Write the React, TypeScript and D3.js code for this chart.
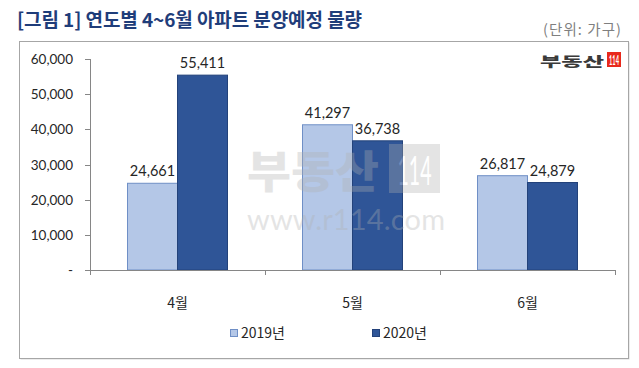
import React from "react";
import * as d3 from "d3";

const months = ["4월", "5월", "6월"];
const series2019 = [24661, 41297, 26817];
const series2020 = [55411, 36738, 24879];
const seriesNames = ["2019년", "2020년"];
const yTicks = [0, 10000, 20000, 30000, 40000, 50000, 60000];

const W = 639;
const H = 368;
const margin = { left: 90, right: 24, top: 59, bottom: 98 };
const colors = ["#b4c7e7", "#2f5597"];
const strokes = ["#6f8fc6", "#23427a"];
const numFont = "Lato, 'Noto Sans CJK KR', sans-serif";
const krFont = "'Noto Sans CJK KR', sans-serif";

export default function App() {
  const plotRight = W - margin.right;
  const plotBottom = H - margin.bottom;

  const x = d3.scaleBand().domain(months).range([margin.left, plotRight]);
  const inner = d3
    .scaleBand()
    .domain(seriesNames)
    .range([0, x.bandwidth()])
    .paddingOuter(0.75)
    .paddingInner(0);
  const y = d3.scaleLinear().domain([0, 60000]).range([plotBottom, margin.top]);
  const fmt = d3.format(",");

  const allSeries = [series2019, series2020];
  const xTickPos = [...months.map((m) => x(m)), plotRight];

  return (
    <svg
      width={W}
      height={H}
      style={{ position: "absolute", left: 0, top: 0, background: "#fff" }}
    >
      {/* title */}
      <text
        x={17}
        y={27}
        fontFamily={krFont}
        fontWeight="bold"
        fontSize={19}
        fill="#1f3d7a"
        textLength={345}
      >
        [그림 1] 연도별 4~6월 아파트 분양예정 물량
      </text>
      <text
        x={621}
        y={35}
        textAnchor="end"
        fontFamily={krFont}
        fontSize={14.5}
        fill="#7f7f7f"
        textLength={78}
      >
        (단위: 가구)
      </text>

      {/* frame */}
      <rect x={20.5} y={42.5} width={609} height={317} fill="#d9d9d9" />
      <rect x={19.5} y={41.5} width={609} height={317} fill="#fff" stroke="#a6a6a6" />

      {/* y axis */}
      <line x1={margin.left + 0.5} x2={margin.left + 0.5} y1={y(60000)} y2={plotBottom} stroke="#868686" />
      {yTicks.map((t) => (
        <g key={t}>
          <line
            x1={margin.left - 5}
            x2={margin.left}
            y1={Math.round(y(t)) + 0.5}
            y2={Math.round(y(t)) + 0.5}
            stroke="#868686"
          />
          <text
            x={73}
            y={y(t) + 5}
            textAnchor="end"
            fontFamily={numFont}
            fontSize={13.5}
            fill="#262626"
          >
            {t === 0 ? "-" : fmt(t)}
          </text>
        </g>
      ))}

      {/* bars */}
      {allSeries.map((vals, si) =>
        vals.map((v, i) => (
          <rect
            key={`${si}-${i}`}
            x={(x(months[i]) as number) + (inner(seriesNames[si]) as number)}
            y={y(v)}
            width={inner.bandwidth()}
            height={plotBottom - y(v)}
            fill={colors[si]}
            stroke={strokes[si]}
            strokeWidth={1}
          />
        ))
      )}

      {/* x axis */}
      <line x1={margin.left} x2={plotRight} y1={plotBottom + 0.5} y2={plotBottom + 0.5} stroke="#868686" />
      {xTickPos.map((p, i) => (
        <line
          key={i}
          x1={Math.round(p as number) + 0.5}
          x2={Math.round(p as number) + 0.5}
          y1={plotBottom}
          y2={plotBottom + 5}
          stroke="#868686"
        />
      ))}
      {months.map((m) => (
        <text
          key={m}
          x={(x(m) as number) + x.bandwidth() / 2}
          y={308}
          textAnchor="middle"
          fontFamily={krFont}
          fontSize={14}
          fill="#262626"
        >
          {m}
        </text>
      ))}

      {/* value labels */}
      {allSeries.map((vals, si) =>
        vals.map((v, i) => (
          <text
            key={`l${si}-${i}`}
            x={(x(months[i]) as number) + (inner(seriesNames[si]) as number) + inner.bandwidth() / 2}
            y={y(v) - 7}
            textAnchor="middle"
            fontFamily={numFont}
            fontSize={14.5}
            fill="#262626"
          >
            {fmt(v)}
          </text>
        ))
      )}

      {/* watermark */}
      <g opacity={0.33} fill="#b0b0b0">
        <text
          x={247}
          y={188}
          fontFamily={krFont}
          fontWeight="900"
          fontSize={44}
          textLength={132}
          lengthAdjust="spacingAndGlyphs"
        >
          부동산
        </text>
        <rect x={389} y={144} width={51} height={49} />
        <text
          x={414.5}
          y={185}
          textAnchor="middle"
          fontFamily={numFont}
          fontSize={40}
          fill="#fff"
          textLength={34}
          lengthAdjust="spacingAndGlyphs"
        >
          114
        </text>
        <text x={247} y={230} fontFamily={numFont} fontSize={29} textLength={198}>
          www.r114.com
        </text>
      </g>

      {/* logo */}
      <text
        x={540}
        y={65.5}
        fontFamily={krFont}
        fontWeight="900"
        fontSize={13}
        fill="#3a3a3a"
        textLength={64}
        lengthAdjust="spacingAndGlyphs"
      >
        부동산
      </text>
      <rect x={607} y={52} width={14} height={15} fill="#e8291c" />
      <text
        x={614}
        y={64.5}
        textAnchor="middle"
        fontFamily={numFont}
        fontWeight="bold"
        fontSize={13}
        fill="#fff"
        textLength={10}
        lengthAdjust="spacingAndGlyphs"
      >
        114
      </text>

      {/* legend */}
      {seriesNames.map((s, i) => {
        const lx = i === 0 ? 230 : 372;
        return (
          <g key={s}>
            <rect x={lx + 0.5} y={329.5} width={7} height={7} fill={colors[i]} stroke={strokes[i]} />
            <text x={lx + 11} y={338} fontFamily={krFont} fontSize={14} fill="#262626">
              {s}
            </text>
          </g>
        );
      })}
    </svg>
  );
}
